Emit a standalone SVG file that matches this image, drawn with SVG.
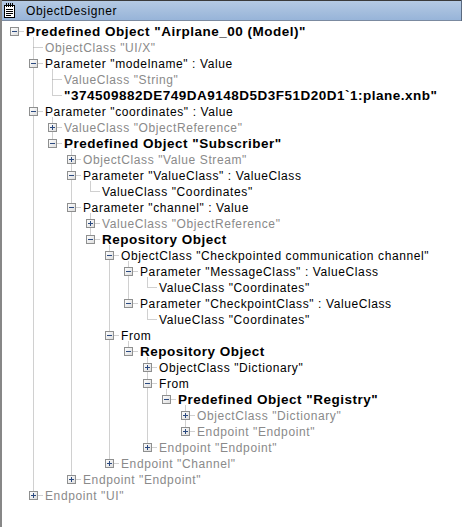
<svg xmlns="http://www.w3.org/2000/svg" xmlns:xlink="http://www.w3.org/1999/xlink" width="462" height="527" viewBox="0 0 462 527">
<style>
text{font-family:"Liberation Sans",Arial,sans-serif;fill:#000}
.t{font-size:12px;letter-spacing:0.6px}
.b{font-size:13.5px;font-weight:bold;letter-spacing:0.5px}
.g{fill:#8a8a8a}
.ln{stroke:#a0a0a0;stroke-width:1;stroke-dasharray:1 1;fill:none}
.bx{fill:url(#bxg);stroke:#8e8f8f;stroke-width:1}
.sg{stroke:#2b4a80;stroke-width:1;fill:none}
</style>
<defs>
<linearGradient id="tb" x1="0" y1="0" x2="0" y2="1">
<stop offset="0" stop-color="#b6cbe4"/>
<stop offset="1" stop-color="#96b3d8"/>
</linearGradient>
<linearGradient id="bxg" x1="0" y1="0" x2="1" y2="1">
<stop offset="0" stop-color="#ffffff"/>
<stop offset="1" stop-color="#dcdcdc"/>
</linearGradient>
<g id="bm"><rect class="bx" x="-4" y="-4" width="8" height="8"/><path class="sg" d="M-2.5 0H2.5"/></g>
<g id="bp"><rect class="bx" x="-4" y="-4" width="8" height="8"/><path class="sg" d="M-2.5 0H2.5M0 -2.5V2.5"/></g>
</defs>
<rect x="0" y="0" width="462" height="527" fill="#fff"/>
<g id="window">
<rect x="0" y="0" width="462" height="21" fill="url(#tb)"/>
<rect x="0" y="0" width="462" height="1" fill="#3a3a3a"/>
<rect x="0" y="20" width="462" height="1" fill="#7b8aa0"/>
<rect x="461" y="0" width="1" height="21" fill="#5a6a80"/>
<rect x="0" y="0" width="2" height="527" fill="#878787"/>
<g id="icon">
<rect x="4.5" y="5.5" width="10" height="12" fill="#fff" stroke="#000"/>
<path d="M6.5 3V7M8.5 3V7M10.5 3V7M12.5 3V7" stroke="#000" stroke-width="1"/>
<path d="M6 9.5H13M6 11.5H13M6 13.5H13M6 15.5H11" stroke="#000" stroke-width="1"/>
</g>
<text class="t" x="26" y="15">ObjectDesigner</text>
</g>
<g id="connectors">
<path class="ln" d="M33.5 37.5V495.5M52.5 69.5V95.5M52.5 117.5V143.5M71.5 149.5V479.5M90.5 181.5V191.5M90.5 213.5V239.5M109.5 245.5V463.5M128.5 261.5V303.5M147.5 277.5V287.5M147.5 309.5V319.5M128.5 341.5V351.5M147.5 357.5V447.5M166.5 389.5V399.5M185.5 405.5V431.5"/>
<path class="ln" d="M14.5 31.5H24M33.5 47.5H43M33.5 63.5H43M52.5 79.5H62M52.5 95.5H62M33.5 111.5H43M52.5 127.5H62M52.5 143.5H62M71.5 159.5H81M71.5 175.5H81M90.5 191.5H100M71.5 207.5H81M90.5 223.5H100M90.5 239.5H100M109.5 255.5H119M128.5 271.5H138M147.5 287.5H157M128.5 303.5H138M147.5 319.5H157M109.5 335.5H119M128.5 351.5H138M147.5 367.5H157M147.5 383.5H157M166.5 399.5H176M185.5 415.5H195M185.5 431.5H195M147.5 447.5H157M109.5 463.5H119M71.5 479.5H81M33.5 495.5H43"/>
</g>
<g id="n0"><use xlink:href="#bm" x="14.5" y="31.5"/><text class="b" x="26" y="36">Predefined Object "Airplane_00 (Model)"</text></g>
<g id="n1"><text class="t g" x="45" y="52">ObjectClass "UI/X"</text></g>
<g id="n2"><use xlink:href="#bm" x="33.5" y="63.5"/><text class="t" x="45" y="68">Parameter "modelname" : Value</text></g>
<g id="n3"><text class="t g" x="64" y="84">ValueClass "String"</text></g>
<g id="n4"><text class="b" x="64" y="100">"374509882DE749DA9148D5D3F51D20D1`1:plane.xnb"</text></g>
<g id="n5"><use xlink:href="#bm" x="33.5" y="111.5"/><text class="t" x="45" y="116">Parameter "coordinates" : Value</text></g>
<g id="n6"><use xlink:href="#bp" x="52.5" y="127.5"/><text class="t g" x="64" y="132">ValueClass "ObjectReference"</text></g>
<g id="n7"><use xlink:href="#bm" x="52.5" y="143.5"/><text class="b" x="64" y="148">Predefined Object "Subscriber"</text></g>
<g id="n8"><use xlink:href="#bp" x="71.5" y="159.5"/><text class="t g" x="83" y="164">ObjectClass "Value Stream"</text></g>
<g id="n9"><use xlink:href="#bm" x="71.5" y="175.5"/><text class="t" x="83" y="180">Parameter "ValueClass" : ValueClass</text></g>
<g id="n10"><text class="t" x="102" y="196">ValueClass "Coordinates"</text></g>
<g id="n11"><use xlink:href="#bm" x="71.5" y="207.5"/><text class="t" x="83" y="212">Parameter "channel" : Value</text></g>
<g id="n12"><use xlink:href="#bp" x="90.5" y="223.5"/><text class="t g" x="102" y="228">ValueClass "ObjectReference"</text></g>
<g id="n13"><use xlink:href="#bm" x="90.5" y="239.5"/><text class="b" x="102" y="244">Repository Object</text></g>
<g id="n14"><use xlink:href="#bm" x="109.5" y="255.5"/><text class="t" x="121" y="260">ObjectClass "Checkpointed communication channel"</text></g>
<g id="n15"><use xlink:href="#bm" x="128.5" y="271.5"/><text class="t" x="140" y="276">Parameter "MessageClass" : ValueClass</text></g>
<g id="n16"><text class="t" x="159" y="292">ValueClass "Coordinates"</text></g>
<g id="n17"><use xlink:href="#bm" x="128.5" y="303.5"/><text class="t" x="140" y="308">Parameter "CheckpointClass" : ValueClass</text></g>
<g id="n18"><text class="t" x="159" y="324">ValueClass "Coordinates"</text></g>
<g id="n19"><use xlink:href="#bm" x="109.5" y="335.5"/><text class="t" x="121" y="340">From</text></g>
<g id="n20"><use xlink:href="#bm" x="128.5" y="351.5"/><text class="b" x="140" y="356">Repository Object</text></g>
<g id="n21"><use xlink:href="#bp" x="147.5" y="367.5"/><text class="t" x="159" y="372">ObjectClass "Dictionary"</text></g>
<g id="n22"><use xlink:href="#bm" x="147.5" y="383.5"/><text class="t" x="159" y="388">From</text></g>
<g id="n23"><use xlink:href="#bm" x="166.5" y="399.5"/><text class="b" x="178" y="404">Predefined Object "Registry"</text></g>
<g id="n24"><use xlink:href="#bp" x="185.5" y="415.5"/><text class="t g" x="197" y="420">ObjectClass "Dictionary"</text></g>
<g id="n25"><use xlink:href="#bp" x="185.5" y="431.5"/><text class="t g" x="197" y="436">Endpoint "Endpoint"</text></g>
<g id="n26"><use xlink:href="#bp" x="147.5" y="447.5"/><text class="t g" x="159" y="452">Endpoint "Endpoint"</text></g>
<g id="n27"><use xlink:href="#bp" x="109.5" y="463.5"/><text class="t g" x="121" y="468">Endpoint "Channel"</text></g>
<g id="n28"><use xlink:href="#bp" x="71.5" y="479.5"/><text class="t g" x="83" y="484">Endpoint "Endpoint"</text></g>
<g id="n29"><use xlink:href="#bp" x="33.5" y="495.5"/><text class="t g" x="45" y="500">Endpoint "UI"</text></g>
</svg>
